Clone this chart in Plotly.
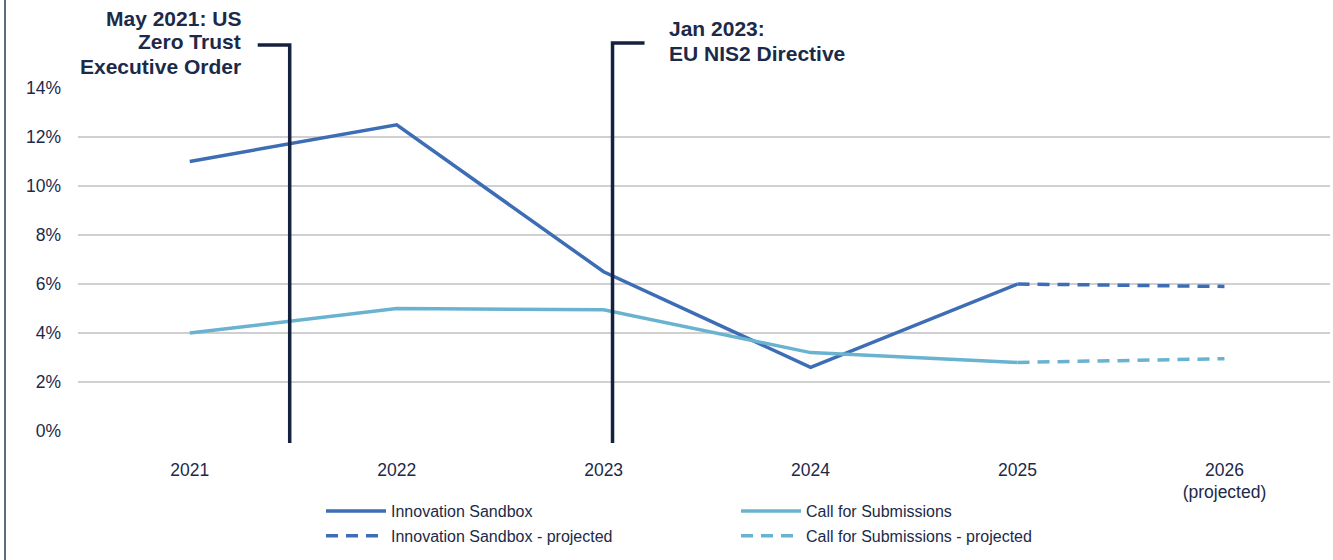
import plotly.graph_objects as go

# ---- data ----
years = ["2021", "2022", "2023", "2024", "2025", "2026<br>(projected)"]
innovation_sandbox = [11.0, 12.5, 6.5, 2.6, 6.0]          # 2021-2025
innovation_projected = [6.0, 5.9]                         # 2025-2026
call_for_submissions = [4.0, 5.0, 4.95, 3.2, 2.8]         # 2021-2025
call_projected = [2.8, 2.95]                              # 2025-2026
y_ticks = [0, 2, 4, 6, 8, 10, 12, 14]
y_tick_labels = ["0%", "2%", "4%", "6%", "8%", "10%", "12%", "14%"]

# events (position on category axis: index + fraction of the year)
event_pos = [0.483, 2.043]
event_lines_text = [
    ["May 2021: US", "Zero Trust", "Executive Order"],
    ["Jan 2023:", "EU NIS2 Directive"],
]

# ---- style ----
W, H = 1333, 560
L, R, T, B = 78, 1330, 88, 431
NAVY = "#1c2a4a"
LINE_NAVY = "#15223f"
BLUE = "#3d6db5"
LIGHT = "#69b3d0"
FONT = "Arial, Liberation Sans, sans-serif"
x_range = [-0.54, 5.51]


def py(p):  # pixel y -> paper y
    return (B - p) / (B - T)


def px(p):  # pixel x -> paper x
    return (p - L) / (R - L)


fig = go.Figure()
fig.add_trace(go.Scatter(x=years[:5], y=innovation_sandbox, mode="lines",
                         name="Innovation Sandbox", legend="legend", legendgroup="a",
                         line=dict(color=BLUE, width=3.5)))
fig.add_trace(go.Scatter(x=years[4:6], y=innovation_projected, mode="lines",
                         name="Innovation Sandbox - projected", legend="legend", legendgroup="b",
                         line=dict(color=BLUE, width=3.5, dash="12px,8px")))
fig.add_trace(go.Scatter(x=years[:5], y=call_for_submissions, mode="lines",
                         name="Call for Submissions", legend="legend2", legendgroup="c",
                         line=dict(color=LIGHT, width=3.5)))
fig.add_trace(go.Scatter(x=years[4:6], y=call_projected, mode="lines",
                         name="Call for Submissions - projected", legend="legend2", legendgroup="d",
                         line=dict(color=LIGHT, width=3.5, dash="12px,8px")))

shapes = []
units_per_px = (x_range[1] - x_range[0]) / (R - L)
cap = 32 * units_per_px
# event 1: cap to the left
shapes.append(dict(type="path", xref="x", yref="paper",
                   path=f"M {event_pos[0]-cap},{py(45)} L {event_pos[0]},{py(45)} L {event_pos[0]},{py(443)}",
                   line=dict(color=LINE_NAVY, width=3.5)))
# event 2: cap to the right
shapes.append(dict(type="path", xref="x", yref="paper",
                   path=f"M {event_pos[1]+cap},{py(43)} L {event_pos[1]},{py(43)} L {event_pos[1]},{py(443)}",
                   line=dict(color=LINE_NAVY, width=3.5)))
# left frame line
shapes.append(dict(type="line", xref="paper", yref="paper",
                   x0=px(5), x1=px(5), y0=py(H + 5), y1=py(-5),
                   line=dict(color="#2a3a5c", width=1.5)))

annotations = []
for i, t in enumerate(event_lines_text[0]):
    annotations.append(dict(xref="paper", yref="paper", x=px(243), y=py(18 + 24 * i),
                            xanchor="right", yanchor="middle", text=f"<b>{t}</b>",
                            showarrow=False, font=dict(family=FONT, size=21, color=NAVY)))
for i, t in enumerate(event_lines_text[1]):
    annotations.append(dict(xref="paper", yref="paper", x=px(667), y=py(29 + 24 * i),
                            xanchor="left", yanchor="middle", text=f"<b>{t}</b>",
                            showarrow=False, font=dict(family=FONT, size=21, color=NAVY)))

legend_common = dict(orientation="v", xanchor="left", yanchor="top",
                     font=dict(family=FONT, size=16, color=NAVY),
                     tracegroupgap=1, itemwidth=60, bgcolor="rgba(0,0,0,0)",
                     borderwidth=0)

fig.update_layout(
    width=W, height=H,
    margin=dict(l=L, r=W - R, t=T, b=H - B, pad=0, autoexpand=False),
    paper_bgcolor="white", plot_bgcolor="white",
    font=dict(family=FONT, color=NAVY),
    showlegend=True,
    legend=dict(x=px(321), y=py(494), **legend_common),
    legend2=dict(x=px(736), y=py(494), **legend_common),
    shapes=shapes,
    annotations=annotations,
)
fig.update_xaxes(type="category", categoryorder="array", categoryarray=years,
                 range=x_range, showgrid=False, zeroline=False, showline=False,
                 ticks="", tickfont=dict(family=FONT, size=17.5, color=NAVY),
                 ticklabelstandoff=26, automargin=False)
fig.update_yaxes(range=[0, 14], tickvals=y_ticks, ticktext=y_tick_labels,
                 showgrid=True, gridcolor="#d0d0d0", gridwidth=1.5,
                 zeroline=False, showline=False, ticks="",
                 tickfont=dict(family=FONT, size=17.5, color=NAVY),
                 ticklabelstandoff=16, automargin=False)

fig.write_html("out.html", config={"displayModeBar": False},
               post_script="document.body.style.margin='0';document.body.style.overflow='hidden';")
